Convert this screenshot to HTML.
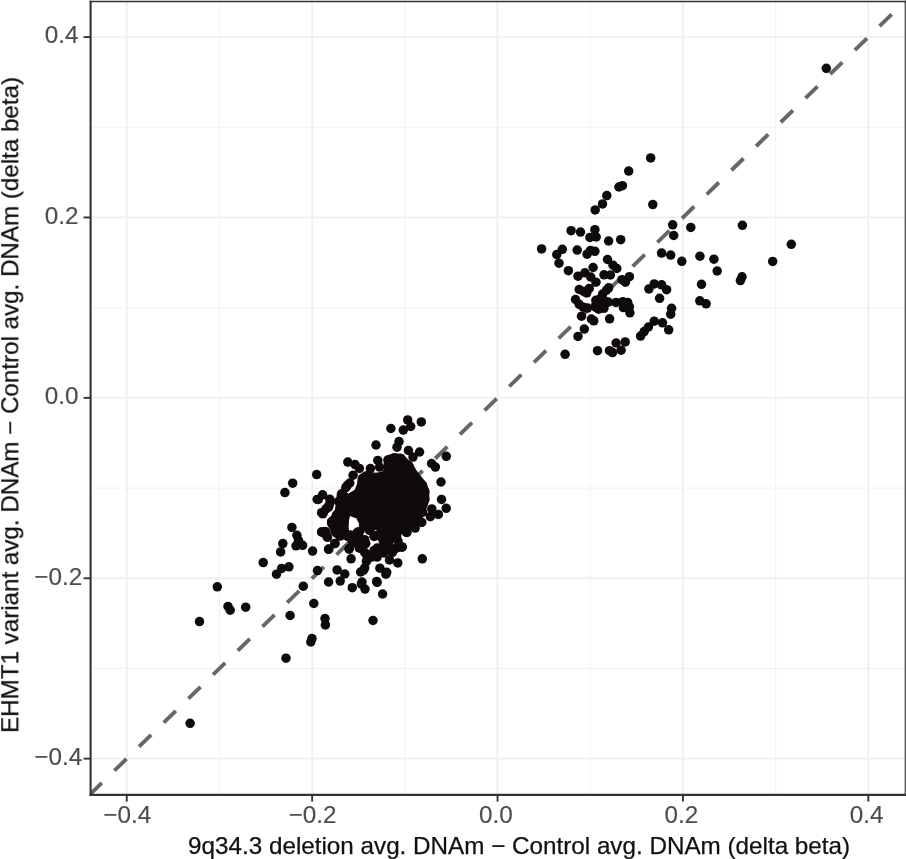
<!DOCTYPE html>
<html><head><meta charset="utf-8"><title>chart</title>
<style>
html,body{margin:0;padding:0;background:#fff;}
body{width:906px;height:859px;overflow:hidden;}
svg{display:block;font-family:"Liberation Sans",sans-serif;}
.tk{font-size:24.3px;fill:#4d4d4d;stroke:#4d4d4d;stroke-width:0.15px;}
.ti{font-size:24px;fill:#111;stroke:#111;stroke-width:0.25px;}
</style></head><body>
<svg width="906" height="859" viewBox="0 0 906 859">
<rect width="906" height="859" fill="#fff"/>
<g shape-rendering="auto">
<line x1="126.75" y1="1.55" x2="126.75" y2="794.9" stroke="#efefef" stroke-width="1.8"/>
<line x1="90.6" y1="758.65" x2="905.4" y2="758.65" stroke="#efefef" stroke-width="1.8"/>
<line x1="219.45" y1="1.55" x2="219.45" y2="794.9" stroke="#f1f1f1" stroke-width="1.0"/>
<line x1="90.6" y1="668.45" x2="905.4" y2="668.45" stroke="#f1f1f1" stroke-width="1.0"/>
<line x1="312.15" y1="1.55" x2="312.15" y2="794.9" stroke="#efefef" stroke-width="1.8"/>
<line x1="90.6" y1="578.25" x2="905.4" y2="578.25" stroke="#efefef" stroke-width="1.8"/>
<line x1="404.85" y1="1.55" x2="404.85" y2="794.9" stroke="#f1f1f1" stroke-width="1.0"/>
<line x1="90.6" y1="488.05" x2="905.4" y2="488.05" stroke="#f1f1f1" stroke-width="1.0"/>
<line x1="497.55" y1="1.55" x2="497.55" y2="794.9" stroke="#efefef" stroke-width="1.8"/>
<line x1="90.6" y1="397.85" x2="905.4" y2="397.85" stroke="#efefef" stroke-width="1.8"/>
<line x1="590.25" y1="1.55" x2="590.25" y2="794.9" stroke="#f1f1f1" stroke-width="1.0"/>
<line x1="90.6" y1="307.65" x2="905.4" y2="307.65" stroke="#f1f1f1" stroke-width="1.0"/>
<line x1="682.95" y1="1.55" x2="682.95" y2="794.9" stroke="#efefef" stroke-width="1.8"/>
<line x1="90.6" y1="217.45" x2="905.4" y2="217.45" stroke="#efefef" stroke-width="1.8"/>
<line x1="775.65" y1="1.55" x2="775.65" y2="794.9" stroke="#f1f1f1" stroke-width="1.0"/>
<line x1="90.6" y1="127.25" x2="905.4" y2="127.25" stroke="#f1f1f1" stroke-width="1.0"/>
<line x1="868.35" y1="1.55" x2="868.35" y2="794.9" stroke="#efefef" stroke-width="1.8"/>
<line x1="90.6" y1="37.05" x2="905.4" y2="37.05" stroke="#efefef" stroke-width="1.8"/>
</g>
<clipPath id="cp"><rect x="90.6" y="1.55" width="814.8" height="793.35"/></clipPath>
<line clip-path="url(#cp)" x1="89.67" y1="794.73" x2="905.43" y2="0.97" stroke="#6a6666" stroke-width="3.9" stroke-dasharray="16.9 17.54"/>
<g fill="#0e0b0a">
<polygon points="362.4,478.4 366.4,475.8 375.6,477.7 384.9,475.8 388.9,470.5 388.2,459.9 394.2,457.9 400.8,458.5 404.8,463.2 408.7,465.8
411.5,471.5 417.5,479.5 422.3,485 424.6,491.7 424.6,499.6 421,510 417,519 412,525 406,528.5 399,530 393,529
388.9,527.4 373,524.8 363.7,522.1 359.5,514.5 351.5,511.5 346.5,508.0 346.5,502.3 351.8,497 358.4,493 361.7,485" stroke="#0e0b0a" stroke-width="9.5" stroke-linejoin="round"/>
<polygon points="341.5,494 340.8,502 341.2,506.5 338.5,513.3 334,520 331.7,523.2 334.7,528.5 337.8,532.3 340,536.1 344.5,533.5 343.8,526.5 344.5,517.5 346.5,508.9 346.5,502.3 345,497" stroke="#0e0b0a" stroke-width="9.5" stroke-linejoin="round"/>
<circle cx="650.7" cy="157.9" r="4.75"/>
<circle cx="628.7" cy="171.1" r="4.75"/>
<circle cx="618.9" cy="187.0" r="4.75"/>
<circle cx="622.4" cy="185.7" r="4.75"/>
<circle cx="606.8" cy="195.6" r="4.75"/>
<circle cx="602.5" cy="203.9" r="4.75"/>
<circle cx="595.2" cy="209.9" r="4.75"/>
<circle cx="652.8" cy="204.6" r="4.75"/>
<circle cx="672.7" cy="224.8" r="4.75"/>
<circle cx="673.7" cy="235.5" r="4.75"/>
<circle cx="571.1" cy="230.7" r="4.75"/>
<circle cx="580.5" cy="232.1" r="4.75"/>
<circle cx="594.9" cy="229.7" r="4.75"/>
<circle cx="589.9" cy="237.4" r="4.75"/>
<circle cx="596.2" cy="237.0" r="4.75"/>
<circle cx="608.6" cy="241.0" r="4.75"/>
<circle cx="620.7" cy="239.7" r="4.75"/>
<circle cx="541.6" cy="248.9" r="4.75"/>
<circle cx="562.3" cy="249.3" r="4.75"/>
<circle cx="556.8" cy="254.6" r="4.75"/>
<circle cx="577.2" cy="250.1" r="4.75"/>
<circle cx="590.4" cy="250.6" r="4.75"/>
<circle cx="594.9" cy="251.3" r="4.75"/>
<circle cx="587.1" cy="254.2" r="4.75"/>
<circle cx="607.5" cy="259.5" r="4.75"/>
<circle cx="661.6" cy="253.1" r="4.75"/>
<circle cx="670.7" cy="255.1" r="4.75"/>
<circle cx="690.8" cy="227.4" r="4.75"/>
<circle cx="742.4" cy="225.3" r="4.75"/>
<circle cx="791.3" cy="244.3" r="4.75"/>
<circle cx="699.9" cy="256.2" r="4.75"/>
<circle cx="713.9" cy="259.2" r="4.75"/>
<circle cx="681.8" cy="261.3" r="4.75"/>
<circle cx="772.7" cy="261.4" r="4.75"/>
<circle cx="559.0" cy="263.2" r="4.75"/>
<circle cx="568.4" cy="270.7" r="4.75"/>
<circle cx="613.0" cy="265.2" r="4.75"/>
<circle cx="616.8" cy="268.5" r="4.75"/>
<circle cx="593.1" cy="267.5" r="4.75"/>
<circle cx="584.9" cy="272.8" r="4.75"/>
<circle cx="578.0" cy="276.2" r="4.75"/>
<circle cx="590.7" cy="277.0" r="4.75"/>
<circle cx="596.0" cy="282.2" r="4.75"/>
<circle cx="604.0" cy="274.8" r="4.75"/>
<circle cx="610.4" cy="275.0" r="4.75"/>
<circle cx="629.4" cy="276.7" r="4.75"/>
<circle cx="622.0" cy="279.7" r="4.75"/>
<circle cx="625.4" cy="282.2" r="4.75"/>
<circle cx="579.2" cy="289.5" r="4.75"/>
<circle cx="583.7" cy="291.4" r="4.75"/>
<circle cx="589.3" cy="288.4" r="4.75"/>
<circle cx="586.7" cy="292.9" r="4.75"/>
<circle cx="608.7" cy="287.8" r="4.75"/>
<circle cx="606.5" cy="290.2" r="4.75"/>
<circle cx="602.6" cy="294.0" r="4.75"/>
<circle cx="575.5" cy="299.5" r="4.75"/>
<circle cx="579.2" cy="304.3" r="4.75"/>
<circle cx="583.3" cy="307.2" r="4.75"/>
<circle cx="587.5" cy="308.1" r="4.75"/>
<circle cx="595.9" cy="300.3" r="4.75"/>
<circle cx="600.3" cy="298.6" r="4.75"/>
<circle cx="604.0" cy="300.3" r="4.75"/>
<circle cx="595.9" cy="304.7" r="4.75"/>
<circle cx="600.3" cy="304.7" r="4.75"/>
<circle cx="604.7" cy="303.9" r="4.75"/>
<circle cx="608.3" cy="302.1" r="4.75"/>
<circle cx="598.6" cy="309.2" r="4.75"/>
<circle cx="603.9" cy="308.3" r="4.75"/>
<circle cx="595.9" cy="307.4" r="4.75"/>
<circle cx="616.0" cy="302.4" r="4.75"/>
<circle cx="622.8" cy="301.7" r="4.75"/>
<circle cx="627.7" cy="302.4" r="4.75"/>
<circle cx="629.4" cy="306.8" r="4.75"/>
<circle cx="623.4" cy="307.6" r="4.75"/>
<circle cx="625.9" cy="304.7" r="4.75"/>
<circle cx="629.9" cy="312.8" r="4.75"/>
<circle cx="581.5" cy="316.2" r="4.75"/>
<circle cx="591.4" cy="319.0" r="4.75"/>
<circle cx="593.8" cy="320.8" r="4.75"/>
<circle cx="609.6" cy="318.8" r="4.75"/>
<circle cx="584.3" cy="329.1" r="4.75"/>
<circle cx="578.0" cy="336.4" r="4.75"/>
<circle cx="565.1" cy="354.3" r="4.75"/>
<circle cx="597.5" cy="350.7" r="4.75"/>
<circle cx="609.5" cy="350.7" r="4.75"/>
<circle cx="612.5" cy="352.6" r="4.75"/>
<circle cx="616.1" cy="343.0" r="4.75"/>
<circle cx="625.2" cy="341.9" r="4.75"/>
<circle cx="621.1" cy="350.2" r="4.75"/>
<circle cx="640.6" cy="336.1" r="4.75"/>
<circle cx="644.2" cy="331.6" r="4.75"/>
<circle cx="648.4" cy="327.0" r="4.75"/>
<circle cx="654.2" cy="321.2" r="4.75"/>
<circle cx="662.5" cy="322.8" r="4.75"/>
<circle cx="668.7" cy="329.8" r="4.75"/>
<circle cx="671.6" cy="308.3" r="4.75"/>
<circle cx="670.7" cy="314.2" r="4.75"/>
<circle cx="659.6" cy="298.3" r="4.75"/>
<circle cx="648.9" cy="288.9" r="4.75"/>
<circle cx="654.2" cy="283.9" r="4.75"/>
<circle cx="661.6" cy="284.8" r="4.75"/>
<circle cx="666.6" cy="289.7" r="4.75"/>
<circle cx="717.2" cy="271.0" r="4.75"/>
<circle cx="701.5" cy="284.3" r="4.75"/>
<circle cx="742.0" cy="276.8" r="4.75"/>
<circle cx="740.4" cy="280.6" r="4.75"/>
<circle cx="699.8" cy="300.8" r="4.75"/>
<circle cx="706.1" cy="303.8" r="4.75"/>
<circle cx="826.3" cy="68.3" r="4.75"/>
<circle cx="407.7" cy="419.9" r="4.75"/>
<circle cx="421.3" cy="421.9" r="4.75"/>
<circle cx="410.7" cy="426.5" r="4.75"/>
<circle cx="403.3" cy="430.1" r="4.75"/>
<circle cx="390.9" cy="428.5" r="4.75"/>
<circle cx="376.0" cy="445.0" r="4.75"/>
<circle cx="399.0" cy="441.6" r="4.75"/>
<circle cx="397.0" cy="447.2" r="4.75"/>
<circle cx="408.4" cy="450.5" r="4.75"/>
<circle cx="419.6" cy="452.0" r="4.75"/>
<circle cx="413.0" cy="457.1" r="4.75"/>
<circle cx="446.3" cy="456.3" r="4.75"/>
<circle cx="431.6" cy="463.5" r="4.75"/>
<circle cx="435.4" cy="467.1" r="4.75"/>
<circle cx="441.0" cy="482.0" r="4.75"/>
<circle cx="441.5" cy="499.4" r="4.75"/>
<circle cx="446.2" cy="508.3" r="4.75"/>
<circle cx="431.8" cy="508.9" r="4.75"/>
<circle cx="438.4" cy="514.4" r="4.75"/>
<circle cx="430.3" cy="516.7" r="4.75"/>
<circle cx="422.6" cy="512.2" r="4.75"/>
<circle cx="347.8" cy="462.1" r="4.75"/>
<circle cx="355.0" cy="464.6" r="4.75"/>
<circle cx="359.4" cy="468.4" r="4.75"/>
<circle cx="353.1" cy="475.2" r="4.75"/>
<circle cx="377.8" cy="460.4" r="4.75"/>
<circle cx="370.4" cy="468.6" r="4.75"/>
<circle cx="379.6" cy="467.1" r="4.75"/>
<circle cx="347.3" cy="485.3" r="4.75"/>
<circle cx="349.8" cy="483.0" r="4.75"/>
<circle cx="345.8" cy="487.7" r="4.75"/>
<circle cx="342.2" cy="493.6" r="4.75"/>
<circle cx="322.6" cy="494.8" r="4.75"/>
<circle cx="329.9" cy="499.3" r="4.75"/>
<circle cx="329.3" cy="504.9" r="4.75"/>
<circle cx="326.0" cy="508.9" r="4.75"/>
<circle cx="323.3" cy="512.6" r="4.75"/>
<circle cx="388.2" cy="459.9" r="4.75"/>
<circle cx="394.2" cy="457.9" r="4.75"/>
<circle cx="400.8" cy="458.5" r="4.75"/>
<circle cx="404.8" cy="463.2" r="4.75"/>
<circle cx="408.7" cy="465.8" r="4.75"/>
<circle cx="390.2" cy="465.8" r="4.75"/>
<circle cx="396.8" cy="466.5" r="4.75"/>
<circle cx="340.5" cy="502.3" r="4.75"/>
<circle cx="339.9" cy="507.5" r="4.75"/>
<circle cx="337.2" cy="515.5" r="4.75"/>
<circle cx="332.6" cy="523.4" r="4.75"/>
<circle cx="325.3" cy="531.4" r="4.75"/>
<circle cx="337.2" cy="531.4" r="4.75"/>
<circle cx="343.8" cy="524.8" r="4.75"/>
<circle cx="346.5" cy="535.4" r="4.75"/>
<circle cx="359.7" cy="531.4" r="4.75"/>
<circle cx="363.7" cy="524.8" r="4.75"/>
<circle cx="373.0" cy="526.1" r="4.75"/>
<circle cx="380.9" cy="532.7" r="4.75"/>
<circle cx="391.5" cy="534.0" r="4.75"/>
<circle cx="396.8" cy="531.4" r="4.75"/>
<circle cx="424.8" cy="499.6" r="4.75"/>
<circle cx="424.8" cy="491.7" r="4.75"/>
<circle cx="422.3" cy="485.0" r="4.75"/>
<circle cx="417.5" cy="479.5" r="4.75"/>
<circle cx="411.5" cy="471.5" r="4.75"/>
<circle cx="421.8" cy="522.4" r="4.75"/>
<circle cx="415.2" cy="528.1" r="4.75"/>
<circle cx="406.9" cy="532.3" r="4.75"/>
<circle cx="395.3" cy="535.6" r="4.75"/>
<circle cx="402.0" cy="547.2" r="4.75"/>
<circle cx="393.7" cy="549.7" r="4.75"/>
<circle cx="387.9" cy="544.7" r="4.75"/>
<circle cx="382.9" cy="538.1" r="4.75"/>
<circle cx="376.3" cy="535.6" r="4.75"/>
<circle cx="364.7" cy="539.7" r="4.75"/>
<circle cx="357.3" cy="532.3" r="4.75"/>
<circle cx="363.9" cy="525.7" r="4.75"/>
<circle cx="422.3" cy="558.8" r="4.75"/>
<circle cx="397.8" cy="562.9" r="4.75"/>
<circle cx="389.5" cy="559.9" r="4.75"/>
<circle cx="377.1" cy="557.1" r="4.75"/>
<circle cx="374.6" cy="551.3" r="4.75"/>
<circle cx="366.4" cy="554.6" r="4.75"/>
<circle cx="366.4" cy="561.3" r="4.75"/>
<circle cx="364.7" cy="567.9" r="4.75"/>
<circle cx="360.6" cy="572.0" r="4.75"/>
<circle cx="351.1" cy="558.8" r="4.75"/>
<circle cx="349.0" cy="548.8" r="4.75"/>
<circle cx="355.6" cy="543.0" r="4.75"/>
<circle cx="359.7" cy="548.0" r="4.75"/>
<circle cx="334.9" cy="543.4" r="4.75"/>
<circle cx="328.6" cy="549.3" r="4.75"/>
<circle cx="379.9" cy="568.2" r="4.75"/>
<circle cx="385.9" cy="574.2" r="4.75"/>
<circle cx="377.1" cy="582.5" r="4.75"/>
<circle cx="382.6" cy="594.0" r="4.75"/>
<circle cx="361.4" cy="584.1" r="4.75"/>
<circle cx="365.0" cy="589.1" r="4.75"/>
<circle cx="352.3" cy="587.7" r="4.75"/>
<circle cx="337.1" cy="569.9" r="4.75"/>
<circle cx="344.8" cy="574.0" r="4.75"/>
<circle cx="340.2" cy="581.1" r="4.75"/>
<circle cx="328.6" cy="582.0" r="4.75"/>
<circle cx="325.0" cy="618.6" r="4.75"/>
<circle cx="373.0" cy="620.5" r="4.75"/>
<circle cx="331.6" cy="521.5" r="4.75"/>
<circle cx="336.6" cy="514.9" r="4.75"/>
<circle cx="341.5" cy="524.8" r="4.75"/>
<circle cx="327.5" cy="537.3" r="4.75"/>
<circle cx="336.6" cy="533.1" r="4.75"/>
<circle cx="344.8" cy="533.1" r="4.75"/>
<circle cx="351.5" cy="538.1" r="4.75"/>
<circle cx="316.7" cy="474.6" r="4.75"/>
<circle cx="292.7" cy="483.2" r="4.75"/>
<circle cx="284.9" cy="492.6" r="4.75"/>
<circle cx="317.2" cy="499.4" r="4.75"/>
<circle cx="328.3" cy="507.2" r="4.75"/>
<circle cx="322.8" cy="513.8" r="4.75"/>
<circle cx="291.9" cy="527.4" r="4.75"/>
<circle cx="296.9" cy="535.3" r="4.75"/>
<circle cx="298.5" cy="540.3" r="4.75"/>
<circle cx="302.6" cy="545.3" r="4.75"/>
<circle cx="296.0" cy="545.8" r="4.75"/>
<circle cx="282.8" cy="543.6" r="4.75"/>
<circle cx="280.6" cy="551.9" r="4.75"/>
<circle cx="312.6" cy="551.1" r="4.75"/>
<circle cx="263.2" cy="562.6" r="4.75"/>
<circle cx="288.9" cy="566.8" r="4.75"/>
<circle cx="281.6" cy="568.4" r="4.75"/>
<circle cx="276.5" cy="574.2" r="4.75"/>
<circle cx="317.5" cy="570.6" r="4.75"/>
<circle cx="321.7" cy="532.0" r="4.75"/>
<circle cx="217.3" cy="586.8" r="4.75"/>
<circle cx="303.3" cy="586.2" r="4.75"/>
<circle cx="228.0" cy="606.4" r="4.75"/>
<circle cx="230.2" cy="610.2" r="4.75"/>
<circle cx="245.7" cy="607.2" r="4.75"/>
<circle cx="199.5" cy="621.6" r="4.75"/>
<circle cx="313.8" cy="603.5" r="4.75"/>
<circle cx="290.1" cy="615.5" r="4.75"/>
<circle cx="325.4" cy="624.9" r="4.75"/>
<circle cx="312.0" cy="638.6" r="4.75"/>
<circle cx="310.8" cy="642.0" r="4.75"/>
<circle cx="286.0" cy="658.2" r="4.75"/>
<circle cx="190.1" cy="723.3" r="4.75"/>
<circle cx="321.6" cy="512.7" r="4.75"/>
<circle cx="328.2" cy="507.1" r="4.75"/>
<circle cx="330.5" cy="501.6" r="4.75"/>
<circle cx="318.3" cy="499.4" r="4.75"/>
<circle cx="338.7" cy="501.6" r="4.75"/>
<circle cx="337.1" cy="516.0" r="4.75"/>
<circle cx="332.1" cy="523.1" r="4.75"/>
<circle cx="321.6" cy="532.0" r="4.75"/>
<circle cx="326.6" cy="535.8" r="4.75"/>
<circle cx="334.9" cy="531.4" r="4.75"/>
<circle cx="340.4" cy="522.6" r="4.75"/>
<circle cx="342.6" cy="532.5" r="4.75"/>
<circle cx="334.9" cy="543.6" r="4.75"/>
<circle cx="328.8" cy="549.1" r="4.75"/>
<circle cx="352.5" cy="541.4" r="4.75"/>
<circle cx="358.0" cy="532.5" r="4.75"/>
<circle cx="363.6" cy="524.8" r="4.75"/>
<circle cx="368.0" cy="528.1" r="4.75"/>
<circle cx="361.4" cy="539.2" r="4.75"/>
<circle cx="365.8" cy="543.6" r="4.75"/>
<circle cx="359.2" cy="548.0" r="4.75"/>
<circle cx="364.7" cy="552.4" r="4.75"/>
<circle cx="366.9" cy="560.1" r="4.75"/>
<circle cx="363.6" cy="570.1" r="4.75"/>
<circle cx="383.4" cy="541.4" r="4.75"/>
<circle cx="387.8" cy="546.9" r="4.75"/>
<circle cx="392.3" cy="552.4" r="4.75"/>
<circle cx="396.7" cy="548.0" r="4.75"/>
<circle cx="402.2" cy="546.9" r="4.75"/>
<circle cx="386.7" cy="572.3" r="4.75"/>
<circle cx="406.6" cy="532.5" r="4.75"/>
<circle cx="396.7" cy="535.8" r="4.75"/>
<circle cx="387.8" cy="531.4" r="4.75"/>
<circle cx="344.9" cy="517.1" r="4.75"/>
<circle cx="343.5" cy="528.5" r="4.75"/>
<circle cx="350.5" cy="535.0" r="4.75"/>
<circle cx="353.1" cy="542.0" r="4.75"/>
<circle cx="347.7" cy="536.5" r="4.75"/>
<circle cx="341.5" cy="535.0" r="4.75"/>
<circle cx="357.8" cy="534.0" r="4.75"/>
<circle cx="369.4" cy="530.4" r="4.75"/>
<circle cx="374.0" cy="536.5" r="4.75"/>
<circle cx="381.7" cy="537.3" r="4.75"/>
<circle cx="386.4" cy="541.2" r="4.75"/>
<circle cx="389.5" cy="546.6" r="4.75"/>
<circle cx="393.3" cy="550.5" r="4.75"/>
<circle cx="377.1" cy="548.1" r="4.75"/>
<circle cx="374.0" cy="550.5" r="4.75"/>
<circle cx="394.1" cy="533.5" r="4.75"/>
<circle cx="362.0" cy="582.1" r="4.75"/>
<circle cx="376.7" cy="581.4" r="4.75"/>
<circle cx="349.2" cy="549.1" r="4.75"/>
<circle cx="372.0" cy="557.0" r="4.75"/>
<circle cx="380.0" cy="549.0" r="4.75"/>
<circle cx="384.0" cy="553.0" r="4.75"/>
<circle cx="390.0" cy="540.0" r="4.75"/>
<circle cx="398.0" cy="541.0" r="4.75"/>
</g>
<g stroke="#333" fill="none">
<line x1="90.6" y1="0.8" x2="90.6" y2="795.9" stroke-width="2.1"/>
<line x1="905.5" y1="0.8" x2="905.5" y2="795.9" stroke-width="1.8" stroke="#5c5c5c"/>
<line x1="89.55" y1="1.55" x2="906.4499999999999" y2="1.55" stroke-width="1.5"/>
<line x1="89.55" y1="794.9" x2="906.4499999999999" y2="794.9" stroke-width="2.1"/>
</g>
<line x1="126.75" y1="794.9" x2="126.75" y2="801.6" stroke="#333" stroke-width="1.9"/>
<line x1="83.6" y1="758.65" x2="90.6" y2="758.65" stroke="#333" stroke-width="1.9"/>
<line x1="312.15" y1="794.9" x2="312.15" y2="801.6" stroke="#333" stroke-width="1.9"/>
<line x1="83.6" y1="578.25" x2="90.6" y2="578.25" stroke="#333" stroke-width="1.9"/>
<line x1="497.55" y1="794.9" x2="497.55" y2="801.6" stroke="#333" stroke-width="1.9"/>
<line x1="83.6" y1="397.85" x2="90.6" y2="397.85" stroke="#333" stroke-width="1.9"/>
<line x1="682.95" y1="794.9" x2="682.95" y2="801.6" stroke="#333" stroke-width="1.9"/>
<line x1="83.6" y1="217.45" x2="90.6" y2="217.45" stroke="#333" stroke-width="1.9"/>
<line x1="868.35" y1="794.9" x2="868.35" y2="801.6" stroke="#333" stroke-width="1.9"/>
<line x1="83.6" y1="37.05" x2="90.6" y2="37.05" stroke="#333" stroke-width="1.9"/>
<g opacity="0.999">
<text x="127.25" y="823.4" text-anchor="middle" class="tk">−0.4</text>
<text x="82.3" y="764.95" text-anchor="end" class="tk">−0.4</text>
<text x="312.65" y="823.4" text-anchor="middle" class="tk">−0.2</text>
<text x="82.3" y="584.55" text-anchor="end" class="tk">−0.2</text>
<text x="495.95" y="823.4" text-anchor="middle" class="tk">0.0</text>
<text x="78.6" y="404.15" text-anchor="end" class="tk">0.0</text>
<text x="681.35" y="823.4" text-anchor="middle" class="tk">0.2</text>
<text x="78.6" y="223.75" text-anchor="end" class="tk">0.2</text>
<text x="866.75" y="823.4" text-anchor="middle" class="tk">0.4</text>
<text x="78.6" y="43.35" text-anchor="end" class="tk">0.4</text>
<text x="519.1" y="854.3" text-anchor="middle" class="ti" textLength="662" lengthAdjust="spacingAndGlyphs">9q34.3 deletion avg. DNAm − Control avg. DNAm (delta beta)</text>
<text transform="translate(18.2,404.9) rotate(-90)" text-anchor="middle" class="ti" textLength="656.0" lengthAdjust="spacingAndGlyphs">EHMT1 variant avg. DNAm − Control avg. DNAm (delta beta)</text>
</g>
</svg>
</body></html>
